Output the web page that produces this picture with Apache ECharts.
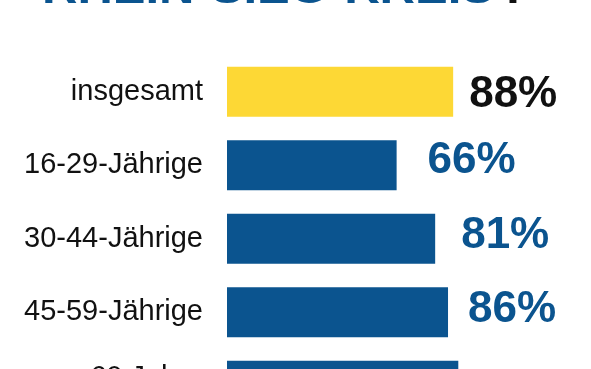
<!DOCTYPE html>
<html>
<head>
<meta charset="utf-8">
<script src="https://cdn.jsdelivr.net/npm/echarts@6/dist/echarts.min.js"></script>
<style>
html,body{margin:0;padding:0;background:#fff;}
#chart{width:591px;height:369px;}
</style>
</head>
<body>
<div id="chart"></div>
<script>
var categories = ['insgesamt', '16-29-Jährige', '30-44-Jährige', '45-59-Jährige', '60 Jahre\nund älter'];
var values = [88, 66, 81, 86, 90];
var labelTexts = ['88%', '66%', '81%', '86%', '90%'];
var titleText = 'RHEIN-SIEG-KREIS';

var BLUE = '#0B548F';
var YELLOW = '#FDD835';
var labelShift = [[16, 3], [31, -4], [26, -3], [20, -2], [20, 6]];

var chart = echarts.init(document.getElementById('chart'), null, {renderer: 'canvas'});

var data = values.map(function (v, i) {
  var first = i === 0;
  return {
    value: v,
    itemStyle: {color: first ? YELLOW : BLUE},
    label: {
      show: true,
      position: 'right',
      distance: 0,
      offset: labelShift[i],
      formatter: labelTexts[i],
      color: first ? '#111111' : BLUE,
      fontFamily: 'Liberation Sans',
      fontWeight: 'bold',
      fontSize: 44
    }
  };
});

chart.setOption({
  animation: false,
  backgroundColor: '#ffffff',
  graphic: [
    {type: 'text', x: 42, y: -11, z: 10,
     style: {text: titleText, fill: BLUE, font: 'bold 49px "Liberation Sans"', verticalAlign: 'middle', align: 'left'}},
    {type: 'text', x: 499, y: -11, z: 10,
     style: {text: '?', fill: '#111111', font: 'bold 49px "Liberation Sans"', verticalAlign: 'middle', align: 'left'}}
  ],
  grid: {left: 227, top: 55, width: 257, height: 367.5, containLabel: false, outerBoundsMode: 'none'},
  xAxis: {
    type: 'value', min: 0, max: 100, show: false
  },
  yAxis: {
    type: 'category',
    data: categories,
    inverse: true,
    axisLine: {show: false},
    axisTick: {show: false},
    splitLine: {show: false},
    axisLabel: {
      margin: 24,
      color: '#111111',
      fontFamily: 'Liberation Sans',
      fontSize: 29,
      lineHeight: 16,
      align: 'right'
    }
  },
  series: [{
    type: 'bar',
    data: data,
    barWidth: 50
  }]
});
</script>
</body>
</html>
